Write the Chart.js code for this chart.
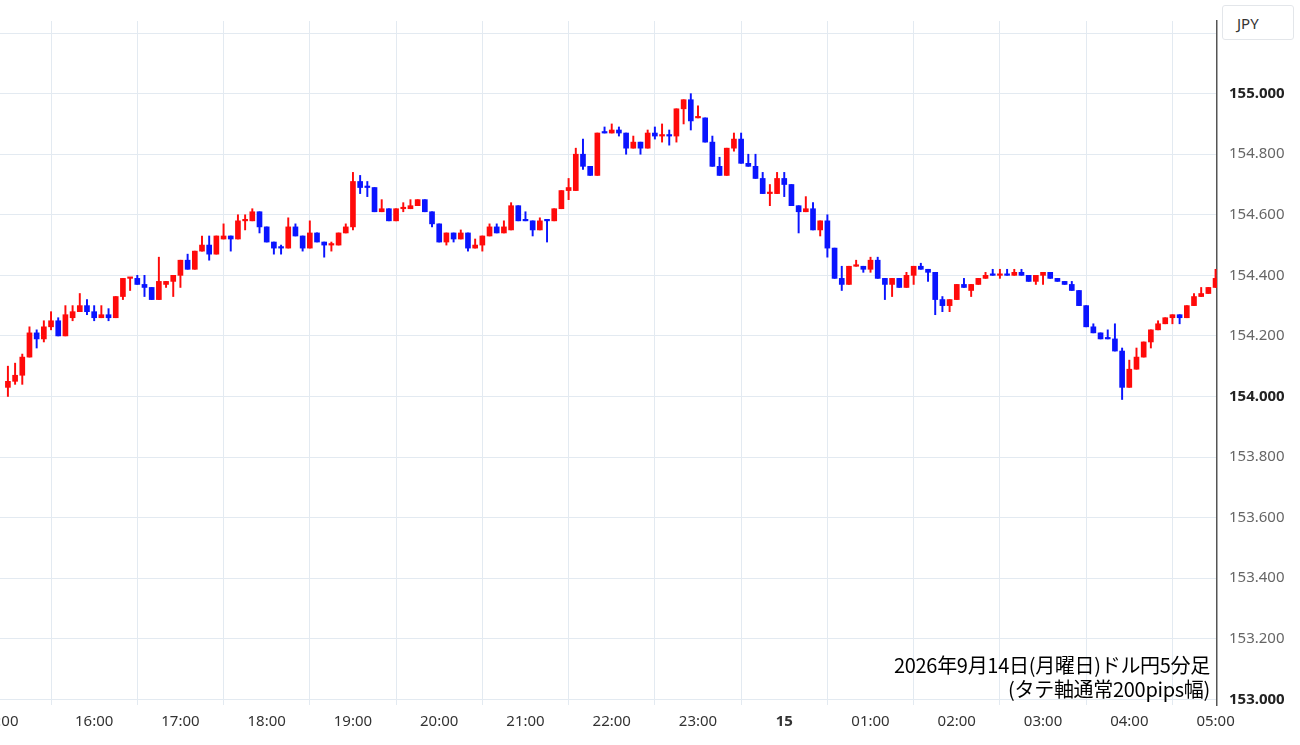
<!DOCTYPE html>
<html><head><meta charset="utf-8">
<script src="https://cdn.jsdelivr.net/npm/chart.js@4.4.1/dist/chart.umd.min.js"></script>
<style>
html,body{margin:0;padding:0;background:#fff;overflow:hidden}
#wrap{position:relative;width:1300px;height:745px}
#jpy{position:absolute;left:1222px;top:5px;width:72px;height:35px;border:1px solid #e3e6ea;border-radius:3px;background:#fff;font:15px "Noto Sans",sans-serif;color:#333;line-height:35px;padding-left:14px;box-sizing:border-box}
#note{position:absolute;right:90px;top:653px;text-align:right;font:20px "Noto Sans CJK JP",sans-serif;color:#000;line-height:24px;letter-spacing:-0.3px}
</style></head><body>
<div id="wrap"><canvas id="c" width="1300" height="745"></canvas>
<div id="jpy">JPY</div>
<div id="note">2026年9月14日(月曜日)ドル円5分足<br>(タテ軸通常200pips幅)</div></div>
<script>
const opens=[154.03,154.05,154.07,154.13,154.21,154.19,154.23,154.25,154.20,154.26,154.28,154.30,154.28,154.26,154.27,154.26,154.33,154.39,154.39,154.37,154.36,154.32,154.37,154.38,154.40,154.45,154.42,154.48,154.50,154.47,
154.52,154.53,154.52,154.58,154.58,154.61,154.56,154.51,154.49,154.49,154.56,154.53,154.49,154.54,154.51,154.50,154.50,154.54,154.56,154.71,154.69,154.69,154.61,154.62,154.58,154.62,154.62,154.63,154.65,154.61,
154.57,154.51,154.54,154.52,154.54,154.49,154.50,154.53,154.56,154.54,154.55,154.63,154.58,154.58,154.55,154.58,154.58,154.62,154.68,154.68,154.80,154.76,154.73,154.87,154.87,154.88,154.87,154.82,154.84,154.82,
154.87,154.86,154.86,154.86,154.95,154.98,154.92,154.92,154.84,154.76,154.73,154.82,154.85,154.77,154.76,154.72,154.67,154.67,154.72,154.70,154.63,154.61,154.62,154.55,154.58,154.49,154.39,154.37,154.43,154.43,
154.42,154.45,154.39,154.37,154.39,154.36,154.40,154.43,154.42,154.41,154.32,154.30,154.32,154.37,154.35,154.37,154.39,154.40,154.40,154.40,154.40,154.41,154.40,154.38,154.40,154.41,154.39,154.38,154.37,154.35,
154.30,154.23,154.21,154.19,154.19,154.15,154.03,154.09,154.13,154.18,154.22,154.24,154.26,154.27,154.26,154.30,154.33,154.34,154.36,154.39];
const closes=[154.05,154.07,154.13,154.21,154.19,154.23,154.25,154.20,154.27,154.28,154.30,154.28,154.26,154.27,154.26,154.33,154.39,154.39,154.37,154.36,154.32,154.38,154.38,154.40,154.45,154.42,154.48,154.50,154.47,154.53,
154.53,154.52,154.58,154.58,154.61,154.56,154.51,154.49,154.49,154.56,154.53,154.49,154.54,154.51,154.50,154.50,154.54,154.56,154.71,154.69,154.69,154.61,154.62,154.58,154.62,154.62,154.63,154.65,154.61,154.57,
154.51,154.54,154.52,154.54,154.49,154.50,154.53,154.56,154.54,154.56,154.63,154.58,154.58,154.55,154.58,154.58,154.62,154.68,154.69,154.80,154.76,154.73,154.87,154.87,154.88,154.87,154.82,154.84,154.82,154.87,
154.86,154.86,154.86,154.95,154.98,154.91,154.92,154.84,154.76,154.73,154.82,154.85,154.77,154.76,154.72,154.67,154.67,154.72,154.70,154.63,154.61,154.62,154.55,154.58,154.49,154.39,154.37,154.43,154.43,154.42,
154.45,154.39,154.37,154.39,154.36,154.40,154.43,154.42,154.41,154.32,154.30,154.32,154.37,154.36,154.37,154.39,154.40,154.40,154.40,154.40,154.41,154.40,154.38,154.40,154.41,154.39,154.38,154.37,154.35,154.30,
154.23,154.21,154.19,154.19,154.15,154.03,154.09,154.13,154.18,154.22,154.24,154.26,154.27,154.26,154.30,154.33,154.34,154.36,154.39,154.41];
const highs=[154.10,154.11,154.14,154.23,154.22,154.25,154.28,154.26,154.30,154.30,154.34,154.32,154.30,154.30,154.29,154.33,154.39,154.39,154.40,154.40,154.36,154.46,154.38,154.40,154.45,154.47,154.48,154.53,154.53,154.53,
154.57,154.53,154.60,154.60,154.62,154.61,154.56,154.51,154.50,154.59,154.57,154.53,154.58,154.54,154.51,154.51,154.54,154.57,154.74,154.73,154.71,154.69,154.65,154.62,154.62,154.64,154.65,154.65,154.65,154.61,
154.57,154.54,154.54,154.55,154.54,154.52,154.53,154.57,154.57,154.58,154.64,154.63,154.61,154.58,154.59,154.58,154.62,154.68,154.72,154.82,154.85,154.76,154.87,154.89,154.90,154.89,154.87,154.86,154.84,154.88,
154.89,154.90,154.88,154.95,154.98,155.00,154.96,154.92,154.86,154.79,154.82,154.87,154.87,154.80,154.80,154.74,154.70,154.74,154.74,154.70,154.63,154.66,154.64,154.58,154.60,154.49,154.43,154.43,154.45,154.43,
154.46,154.46,154.39,154.39,154.39,154.41,154.43,154.44,154.42,154.41,154.33,154.32,154.37,154.39,154.37,154.39,154.41,154.42,154.42,154.42,154.42,154.42,154.40,154.40,154.41,154.41,154.39,154.38,154.38,154.35,
154.30,154.24,154.21,154.22,154.24,154.16,154.12,154.16,154.18,154.22,154.25,154.26,154.27,154.27,154.30,154.34,154.36,154.36,154.42,154.42];
const lows=[154.00,154.04,154.04,154.13,154.16,154.18,154.22,154.20,154.20,154.25,154.28,154.27,154.25,154.26,154.25,154.26,154.32,154.35,154.37,154.33,154.32,154.32,154.36,154.33,154.36,154.42,154.42,154.48,154.45,154.47,
154.52,154.48,154.52,154.55,154.58,154.54,154.51,154.47,154.47,154.49,154.53,154.48,154.49,154.51,154.46,154.48,154.50,154.54,154.55,154.67,154.66,154.61,154.61,154.58,154.58,154.61,154.62,154.63,154.61,154.56,
154.51,154.50,154.51,154.52,154.48,154.49,154.48,154.53,154.54,154.54,154.55,154.58,154.58,154.53,154.55,154.51,154.58,154.62,154.65,154.68,154.75,154.73,154.73,154.87,154.87,154.86,154.80,154.82,154.80,154.82,
154.85,154.84,154.83,154.84,154.90,154.88,154.92,154.84,154.76,154.73,154.73,154.81,154.77,154.76,154.72,154.67,154.63,154.67,154.66,154.63,154.54,154.61,154.55,154.53,154.46,154.39,154.35,154.37,154.43,154.41,
154.41,154.39,154.32,154.33,154.36,154.36,154.37,154.42,154.38,154.27,154.28,154.28,154.32,154.36,154.33,154.37,154.39,154.40,154.39,154.40,154.40,154.40,154.38,154.37,154.37,154.39,154.38,154.37,154.35,154.30,
154.23,154.21,154.19,154.19,154.15,153.99,154.03,154.09,154.13,154.16,154.22,154.24,154.24,154.24,154.26,154.30,154.33,154.34,154.36,154.39];
const redDoji=[17,33,45,55,91,96,106,118,138];
const stepMin=5;
const hourTicks=[0,60,120,180,240,300,360,420,480,540,600,660,720,780,840];
const hourLabels=[':00','16:00','17:00','18:00','19:00','20:00','21:00','22:00','23:00','15','01:00','02:00','03:00','04:00','05:00'];
const priceTicks=[153.0,153.2,153.4,153.6,153.8,154.0,154.2,154.4,154.6,154.8,155.0,155.2];

const RED='#ff0a0a',BLUE='#0a14ff';
const cols=opens.map((o,i)=>closes[i]>o?RED:(closes[i]<o?BLUE:(redDoji.includes(i)?RED:BLUE)));
const wick=opens.map((o,i)=>({x:i*stepMin,y:[lows[i],highs[i]]}));
const body=opens.map((o,i)=>({x:i*stepMin,y:[o,closes[i]]}));
const whole=c=>!!(c&&c.tick&&Math.abs(c.tick.value-Math.round(c.tick.value))<1e-6);

new Chart(document.getElementById('c'),{
 type:'bar',
 data:{datasets:[
  {data:wick,backgroundColor:cols,barThickness:1.3,grouped:false,order:2},
  {data:body,backgroundColor:cols,barThickness:5,minBarLength:1.5,grouped:false,order:1}
 ]},
 options:{responsive:false,animation:false,
  layout:{padding:0},
  plugins:{legend:{display:false},tooltip:{enabled:false}},
  scales:{
   x:{type:'linear',min:-5.5,max:841,offset:false,
     afterBuildTicks:s=>{s.ticks=hourTicks.map(v=>({value:v}));},
     ticks:{autoSkip:false,maxRotation:0,padding:8,color:'#333',
       font:c=>({family:'"Noto Sans",sans-serif',size:15,weight:(c&&c.index===9)?'bold':'normal'}),
       callback:(v,i)=>hourLabels[i]},
     grid:{color:'#e3eaf1',drawTicks:false},border:{display:false},
     afterFit:s=>{s.height=40;s.paddingLeft=0;s.paddingRight=0;}},
   y:{position:'right',min:152.981,max:155.24,
     afterBuildTicks:s=>{s.ticks=priceTicks.map(v=>({value:v}));},
     ticks:{padding:12,color:c=>whole(c)?'#222':'#666',
       font:c=>({family:'"Noto Sans",sans-serif',size:15,weight:whole(c)?'bold':'normal'}),
       callback:v=>(v>155.1?'':v.toFixed(3))},
     grid:{color:'#e3eaf1',drawTicks:false},border:{display:true,color:'#555',width:1.5},
     afterFit:s=>{s.width=83;}}
  }}
});
</script></body></html>
